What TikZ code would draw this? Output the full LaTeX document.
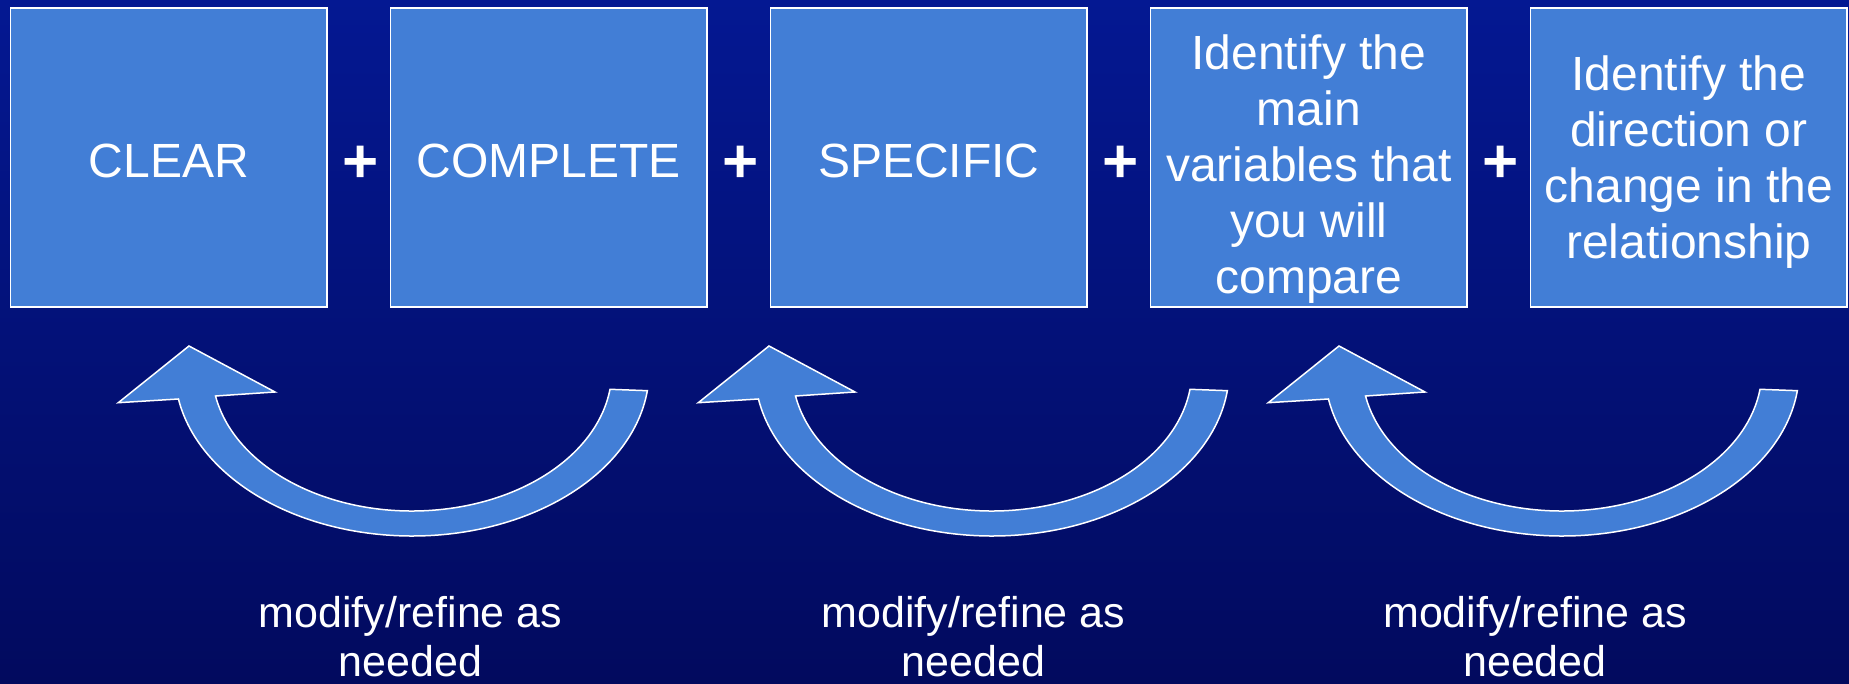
\documentclass[tikz,border=0pt]{standalone}
\usepackage{fontspec}
\setmainfont{Liberation Sans}
\usetikzlibrary{positioning}
\usetikzlibrary{calc}
\definecolor{boxblue}{RGB}{66,126,214}
\definecolor{bgtop}{RGB}{4,24,146}
\definecolor{bgbottom}{RGB}{2,10,94}
\tikzset{
	card/.style={draw=white, line width=1.5pt, fill=boxblue, text=white, minimum width=316.5pt, minimum height=299pt, inner sep=0pt, outer sep=0pt, align=center, font=\fontsize{48}{56}\selectfont},
	joiner/.style={text=white, inner sep=0pt, xshift=1.5pt, yshift=-7pt, font=\fontsize{62}{62}\selectfont\bfseries},
	% labels under the curved arrows
	note/.style={text=white, inner sep=0pt, align=center, anchor=south, font=\fontsize{43}{49}\selectfont},
	loopback/.style={draw=white, line width=1.5pt, fill=boxblue, line join=miter},
}

\begin{document}
\begin{tikzpicture}[x=1pt, y=1pt]
	\useasboundingbox (0,0) rectangle (1849,683);
	\fill[top color=bgtop, bottom color=bgbottom] (0,0) rectangle (1849,683);
	
	\node (c1) [card, text height=40.5pt] at (168.75,525.5) {CLEAR};
	\node (c2) [card, text height=40.5pt, right=63.5pt of c1] {COMPLETE};
	\node (c3) [card, text height=40.5pt, right=63.5pt of c2] {SPECIFIC};
	\node (c4) [card, right=63.5pt of c3] {\rule{0pt}{58.5pt}Identify the\\main\\variables that\\you will\\compare};
	\node (c5) [card, right=63.5pt of c4] {\rule{0pt}{44.5pt}Identify the\\direction or\\change in the\\relationship};
	
	\node (p1) [joiner] at ($(c1.east)!0.5!(c2.west)$) {+};
	\node (p2) [joiner] at ($(c2.east)!0.5!(c3.west)$) {+};
	\node (p3) [joiner] at ($(c3.east)!0.5!(c4.west)$) {+};
	\node (p4) [joiner] at ($(c4.east)!0.5!(c5.west)$) {+};
	
	\coordinate (r1) at (412,313);
	\coordinate (r2) at (992,313);
	\coordinate (r3) at (1562,313);
	
	\begin{scope}[shift={(r1)}]
		\draw[loopback] (-7.16:237.2 and 166) arc[start angle=-7.16, end angle=-169.94, x radius=237.2, y radius=166]
			-- (-293.7,-32.7) -- (-223,24) -- (-137,-22) -- (-169.37:199.9 and 141)
			arc[start angle=-169.37, end angle=-7.87, x radius=199.9, y radius=141] -- cycle;
	\end{scope}
	\begin{scope}[shift={(r2)}]
		\draw[loopback] (-7.16:237.2 and 166) arc[start angle=-7.16, end angle=-169.94, x radius=237.2, y radius=166]
			-- (-293.7,-32.7) -- (-223,24) -- (-137,-22) -- (-169.37:199.9 and 141)
			arc[start angle=-169.37, end angle=-7.87, x radius=199.9, y radius=141] -- cycle;
	\end{scope}
	\begin{scope}[shift={(r3)}]
		\draw[loopback] (-7.16:237.2 and 166) arc[start angle=-7.16, end angle=-169.94, x radius=237.2, y radius=166]
			-- (-293.7,-32.7) -- (-223,24) -- (-137,-22) -- (-169.37:199.9 and 141)
			arc[start angle=-169.37, end angle=-7.87, x radius=199.9, y radius=141] -- cycle;
	\end{scope}
	
	\node (m1) [note] at (410.5,5.5) {modify/refine as\\needed};
	\node (m2) [note] at (973.5,5.5) {modify/refine as\\needed};
	\node (m3) [note] at (1535,5.5) {modify/refine as\\needed};
	
\end{tikzpicture}
\end{document}
